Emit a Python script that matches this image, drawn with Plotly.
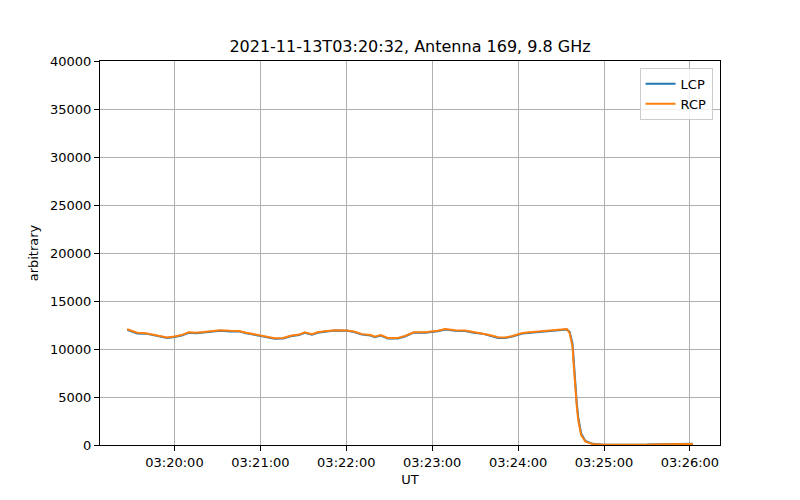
import plotly.graph_objects as go

times = [
    "03:19:27", "03:19:31", "03:19:34", "03:19:40", "03:19:45", "03:19:50", "03:19:55",
    "03:20:00", "03:20:05", "03:20:10", "03:20:15", "03:20:22", "03:20:27", "03:20:32",
    "03:20:39", "03:20:45", "03:20:50", "03:20:57", "03:21:04", "03:21:10", "03:21:16",
    "03:21:21", "03:21:27", "03:21:31", "03:21:36", "03:21:40", "03:21:45", "03:21:52",
    "03:22:01", "03:22:06", "03:22:11", "03:22:17", "03:22:20", "03:22:24", "03:22:29",
    "03:22:36", "03:22:41", "03:22:47", "03:22:55", "03:23:04", "03:23:09", "03:23:16",
    "03:23:23", "03:23:29", "03:23:35", "03:23:40", "03:23:46", "03:23:51", "03:23:56",
    "03:24:03", "03:24:10", "03:24:19", "03:24:26", "03:24:31", "03:24:34", "03:24:36",
    "03:24:38", "03:24:39", "03:24:40", "03:24:41", "03:24:42", "03:24:44", "03:24:47",
    "03:24:52", "03:25:00", "03:25:10", "03:25:20", "03:25:30", "03:25:40", "03:25:50",
    "03:26:02",
]

rcp = [
    12050, 11850, 11700, 11650, 11500, 11350, 11200,
    11300, 11450, 11740, 11700, 11800, 11850, 11950,
    11900, 11880, 11700, 11500, 11330, 11120, 11150,
    11380, 11500, 11740, 11550, 11750, 11850, 11950,
    11930, 11800, 11550, 11450, 11280, 11460, 11150,
    11150, 11350, 11740, 11750, 11900, 12080, 11950,
    11930, 11750, 11640, 11450, 11220, 11200, 11350,
    11670, 11770, 11900, 11950, 12050, 12080, 11650,
    10250, 8000, 5800, 4000, 2600, 1050, 350,
    100, 20, 0, -20, 30, 80, 100,
    110,
]

lcp = [
    12000, 11800, 11620, 11600, 11450, 11300, 11150,
    11250, 11400, 11680, 11650, 11750, 11800, 11900,
    11820, 11850, 11650, 11450, 11280, 11080, 11100,
    11330, 11450, 11680, 11500, 11700, 11800, 11920,
    11900, 11750, 11500, 11400, 11230, 11400, 11100,
    11100, 11300, 11700, 11700, 11850, 12030, 11900,
    11880, 11700, 11600, 11400, 11150, 11150, 11300,
    11620, 11720, 11850, 11900, 12000, 12030, 11800,
    10550, 8500, 6200, 4300, 2900, 1200, 420,
    120, 30, 10, -10, 40, 90, 110,
    120,
]

date = "2021-11-13 "
x = [date + t for t in times]

fig = go.Figure()
fig.add_trace(go.Scatter(x=x, y=lcp, mode="lines", name="LCP",
                         line=dict(color="#1f77b4", width=2)))
fig.add_trace(go.Scatter(x=x, y=rcp, mode="lines", name="RCP",
                         line=dict(color="#ff7f0e", width=2)))

tick_vals = [date + "03:%02d:00" % m for m in range(20, 27)]
tick_text = ["03:%02d:00" % m for m in range(20, 27)]

fig.update_layout(
    width=792, height=492,
    margin=dict(l=92, r=80, t=53, b=55),
    paper_bgcolor="white", plot_bgcolor="white",
    font=dict(family="DejaVu Sans", size=13, color="black"),
    title=dict(text="2021-11-13T03:20:32, Antenna 169, 9.8 GHz",
               xref="paper", x=0.5, xanchor="center", y=0.921, yanchor="middle",
               font=dict(size=16, family="DejaVu Sans", color="black")),
    legend=dict(x=0.988, xanchor="right", y=0.982, yanchor="top",
                bordercolor="#cccccc", borderwidth=1, bgcolor="rgba(255,255,255,0.8)",
                font=dict(size=13), tracegroupgap=0),
    showlegend=True,
)
fig.update_xaxes(
    range=[date + "03:19:08", date + "03:26:21"],
    tickvals=tick_vals, ticktext=tick_text,
    showgrid=True, gridcolor="#b0b0b0", gridwidth=1,
    showline=True, linecolor="black", linewidth=1, mirror=True,
    ticks="outside", ticklen=5, tickcolor="black",
    zeroline=False,
    title=dict(text="UT", font=dict(size=13), standoff=6),
)
fig.update_yaxes(
    range=[0, 40000], tickmode="array",
    tickvals=list(range(0, 40001, 5000)),
    ticktext=[str(v) for v in range(0, 40001, 5000)],
    showgrid=True, gridcolor="#b0b0b0", gridwidth=1,
    showline=True, linecolor="black", linewidth=1, mirror=True,
    ticks="outside", ticklen=5, tickcolor="black",
    zeroline=False,
    title=dict(text="arbitrary", font=dict(size=13), standoff=8),
)

fig.write_html("out.html")
